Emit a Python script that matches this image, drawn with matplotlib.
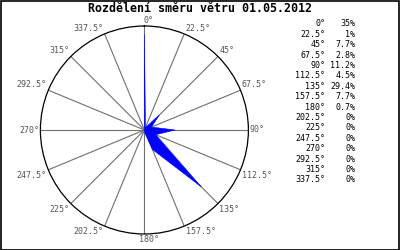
import numpy as np
import matplotlib
matplotlib.use("Agg")
from matplotlib import pyplot as plt

title = "Rozdělení směru větru 01.05.2012"
directions = [0, 22.5, 45, 67.5, 90, 112.5, 135, 157.5,
              180, 202.5, 225, 247.5, 270, 292.5, 315, 337.5]
dir_labels = ["0°", "22.5°", "45°", "67.5°", "90°", "112.5°", "135°", "157.5°",
              "180°", "202.5°", "225°", "247.5°", "270°", "292.5°", "315°", "337.5°"]
percent = [35, 1, 7.7, 2.8, 11.2, 4.5, 29.4, 7.7,
           0.7, 0, 0, 0, 0, 0, 0, 0]
percent_labels = ["35%", "1%", "7.7%", "2.8%", "11.2%", "4.5%", "29.4%", "7.7%",
                  "0.7%", "0%", "0%", "0%", "0%", "0%", "0%", "0%"]

mono = "DejaVu Sans Mono"
rmax = 38

fig = plt.figure(figsize=(4, 2.5), dpi=100)
fig.set_facecolor("white")

# frame around the whole picture
fig.patches.append(plt.Rectangle((0.0015, 0.002), 0.996, 0.994, transform=fig.transFigure,
                                 fill=False, edgecolor="black", linewidth=1.2))

fig.text(0.5, 0.966, title, ha="center", va="center", fontsize=8.4,
         fontweight="bold", family=mono, color="black")

ax = fig.add_axes([0.101, 0.064, 0.52, 0.832], polar=True)
ax.set_theta_zero_location("N")
ax.set_theta_direction(-1)
ax.set_ylim(0, rmax)

theta = np.deg2rad(directions + [directions[0]])
r = percent + [percent[0]]
ax.fill(theta, r, color="#0000ff", edgecolor="#0000ff", linewidth=0.4, zorder=3)

ax.set_xticks(np.deg2rad(directions))
ax.set_xticklabels([])
ax.set_yticks([])
ax.xaxis.grid(True, color="#707070", linewidth=0.8)
ax.spines["polar"].set_color("black")
ax.spines["polar"].set_linewidth(0.9)

# direction labels anchored at the end of each spoke
for d, lab in zip(directions, dir_labels):
    if d in (0, 180):
        ha, dx = "center", 3
    elif d < 180:
        ha, dx = "left", 1
    else:
        ha, dx = "right", -1
    if d in (90, 270):
        va, dy = "center", 0
    elif d < 90 or d > 270 or d == 0:
        va, dy = "bottom", 1
    else:
        va, dy = "top", -1
    if d == 180:
        va, dy = "top", -1
    ax.annotate(lab, xy=(np.deg2rad(d), rmax), xytext=(dx, dy), textcoords="offset points",
                ha=ha, va=va, fontsize=6, family=mono, color="#555555",
                annotation_clip=False)

# table of percentages on the right
y0 = 0.904
step = 0.0416
for i, (d, p) in enumerate(zip(dir_labels, percent_labels)):
    y = y0 - i * step
    fig.text(0.813, y, d, ha="right", va="center", fontsize=6, family=mono, color="black")
    fig.text(0.888, y, p, ha="right", va="center", fontsize=6, family=mono, color="black")

fig.savefig("out.png", dpi=100, facecolor="white")
